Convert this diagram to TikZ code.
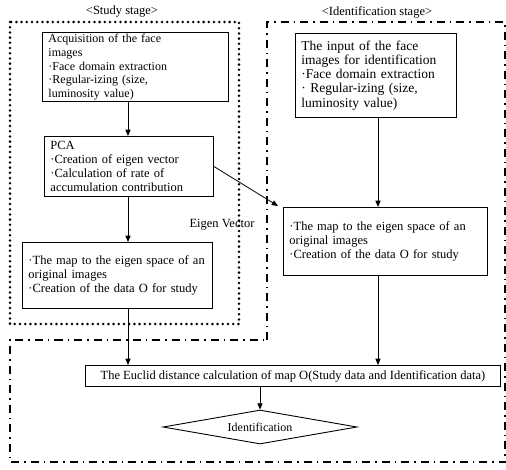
\documentclass[tikz,border=0pt]{standalone}
\usepackage{fontspec}
\setmainfont{Liberation Serif}
\usepackage{tikz}
\usetikzlibrary{arrows.meta,positioning,shapes.geometric}
\tikzset{
  >={Triangle[length=2.2mm,width=1.8mm]},
  fbox/.style={draw=black, line width=0.9pt, anchor=north west, align=left,
               inner xsep=6pt, inner ysep=2pt},
  fsmall/.style={font=\fontsize{12}{13.6}\selectfont},
  fmid/.style={font=\fontsize{12.5}{13.8}\selectfont},
  fbig/.style={font=\fontsize{13.5}{14.2}\selectfont},
  fdiam/.style={diamond, aspect=5.7, draw=black, line width=0.9pt, inner sep=0pt,
                minimum width=194pt, minimum height=34pt,
                font=\fontsize{12}{14}\selectfont},
  fstudy/.style={line width=2.8pt, line cap=round, dash pattern=on 0pt off 5.2pt},
  fident/.style={line width=2pt, dash pattern=on 8pt off 5pt on 1.5pt off 5pt},
  fflow/.style={->, line width=0.8pt},
  flbl/.style={font=\fontsize{12.5}{14}\selectfont},
}
\begin{document}
\begin{tikzpicture}[x=1pt,y=-1pt]
  \useasboundingbox (0,0) rectangle (506,469);

  % molduras das etapas
  \draw[fstudy] (10,22) rectangle (239,324);
  \draw[fident] (267,340) -- (267,22) -- (505,22) -- (505,462)
                -- (10,462) -- (10,340) -- cycle;
  \node[flbl] (tstudy) at (122,12) {<Study stage>};
  \node[flbl] (tident) at (377,12) {<Identification stage>};

  % caixas
  \node[fbox, fsmall, text width=174pt, minimum height=68pt] (acq) at (42,32)
    {Acquisition of the face\\images\\·Face domain extraction\\·Regular-izing (size,\\luminosity value)};
  \node[fbox, fmid, text width=157pt, minimum height=60pt] (pca) at (44,136)
    {PCA\\·Creation of eigen vector\\·Calculation of rate of\\accumulation contribution};
  \node[fbox, fmid, text width=178pt, minimum height=66pt] (mapl) at (22,242)
    {·The map to the eigen space of an\\original images\\·Creation of the data O for study};
  \node[fbox, fbig, text width=149pt, minimum height=84pt] (inp) at (295,33)
    {The input of the face\\images for identification\\·Face domain extraction\\· Regular-izing (size,\\luminosity value)};
  \node[fbox, fmid, text width=192pt, minimum height=68pt] (mapr) at (283,207)
    {·The map to the eigen space of an\\original images\\·Creation of the data O for study};
  \node[fbox, fmid, align=center, minimum width=415pt, minimum height=21pt] (euc) at (85,365)
    {The Euclid distance calculation of map O(Study data and Identification data)};
  \node[fdiam] (ident) at (260,427) {Identification};
  \node[flbl] (eig) at (222,225) {Eigen Vector};

  % setas
  \coordinate (xl) at (128,0);
  \coordinate (xr) at (378,0);
  \draw[fflow] (acq.south -| xl) -- (pca.north -| xl);
  \draw[fflow] (pca.south -| xl) -- (mapl.north -| xl);
  \draw[fflow] (mapl.south -| xl) -- (euc.north -| xl);
  \draw[fflow] (inp.south -| xr) -- (mapr.north -| xr);
  \draw[fflow] (mapr.south -| xr) -- (euc.north -| xr);
  \draw[fflow] (euc.south -| ident.north) -- (ident.north);
  \draw[fflow] (pca.east) -- ([shift={(-5pt,1pt)}]mapr.north west);

\end{tikzpicture}
\end{document}
